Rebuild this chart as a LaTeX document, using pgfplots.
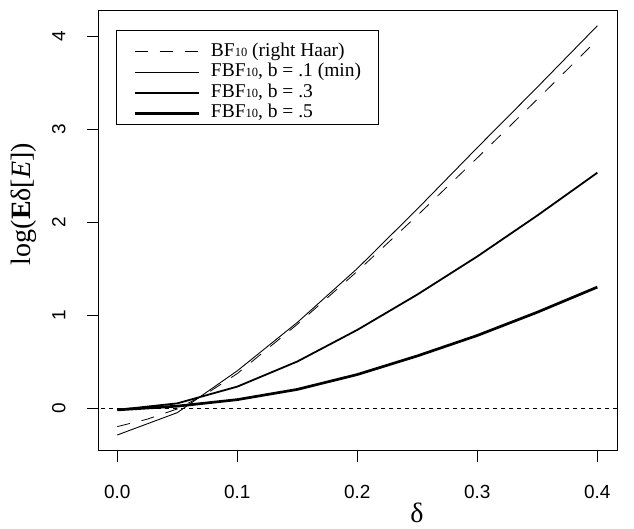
\documentclass[border=0pt]{standalone}
\usepackage{fontspec}
\setmainfont{Liberation Serif}
\setsansfont{Liberation Sans}
\usepackage{pgfplots}
\pgfplotsset{compat=1.18}

% small "10" used in the legend
\newcommand{\ten}{{\fontsize{12.5}{12.5}\selectfont 10}}

\begin{document}
\begin{tikzpicture}
\begin{axis}[
  at={(98.7pt,79pt)}, anchor=south west,
  scale only axis, width=518.3pt, height=440pt,
  xmin=-0.0155, xmax=0.4164, ymin=-0.4516, ymax=4.28,
  axis line style={line width=0.8pt},
  xtick={0,0.1,0.2,0.3,0.4}, xticklabels={0.0,0.1,0.2,0.3,0.4},
  ytick={0,1,2,3,4}, yticklabels={0,1,2,3,4},
  xtick pos=bottom, ytick pos=left,
  tick align=outside, major tick length=12pt,
  every tick/.style={black, line width=0.8pt},
  tick label style={font=\sffamily\fontsize{19}{19}\selectfont, inner sep=0pt},
  xticklabel style={anchor=north},
  xticklabel shift=23pt,
  yticklabel style={rotate=90, anchor=south},
  yticklabel shift=21pt,
  xlabel={δ}, ylabel={log(\textbf{E}δ[\textit{E}])},
  label style={font=\fontsize{28}{28}\selectfont},
  xlabel style={at={(axis description cs:0.614,-0.143)}, anchor=center},
  ylabel style={at={(axis description cs:-0.144,0.559)}, anchor=center},
  legend style={at={(0.0662,0.9273)}, anchor=north west, draw=none, fill=none,
    inner sep=0pt, column sep=11pt, row sep=2.1pt,
    font=\fontsize{19.5}{19.5}\selectfont,
    nodes={inner sep=0pt, text height=14pt, text depth=4.5pt}},
  legend cell align=left,
  legend image code/.code={\draw[#1] (0pt,0pt) -- (64pt,0pt);},
]
\addplot[black, line width=0.8pt, dash pattern=on 13pt off 12pt] coordinates {
  (0,-0.20) (0.025,-0.12) (0.05,-0.01) (0.075,0.16) (0.1,0.37) (0.15,0.90)
  (0.2,1.47) (0.25,2.07) (0.3,2.69) (0.35,3.32) (0.4,3.96)};
\addlegendentry{BF\ten{} (right Haar)}
\addplot[black, line width=0.9pt, line join=round] coordinates {
  (0,-0.29) (0.05,-0.05) (0.1,0.40) (0.15,0.92) (0.2,1.50)
  (0.25,2.14) (0.3,2.80) (0.35,3.45) (0.4,4.11)};
\addlegendentry{FBF\ten, b = .1 (min)}
\addplot[black, line width=1.8pt, line join=round] coordinates {
  (0,-0.02) (0.05,0.05) (0.1,0.23) (0.15,0.50) (0.2,0.84)
  (0.25,1.22) (0.3,1.63) (0.35,2.07) (0.4,2.53)};
\addlegendentry{FBF\ten, b = .3}
\addplot[black, line width=2.7pt, line join=round] coordinates {
  (0,-0.02) (0.05,0.02) (0.1,0.09) (0.15,0.20) (0.2,0.36)
  (0.25,0.56) (0.3,0.78) (0.35,1.03) (0.4,1.30)};
\addlegendentry{FBF\ten, b = .5}
% zero reference line
\addplot[black, line width=0.8pt, dash pattern=on 4pt off 4pt, forget plot]
  coordinates {(-0.1,0) (0.5,0)};
\draw[line width=0.8pt] (axis description cs:0.0334,0.9545) rectangle (axis description cs:0.5389,0.7409);
\end{axis}
\pgfresetboundingbox
\useasboundingbox (0,0) rectangle (634pt,529pt);
\end{tikzpicture}
\end{document}
